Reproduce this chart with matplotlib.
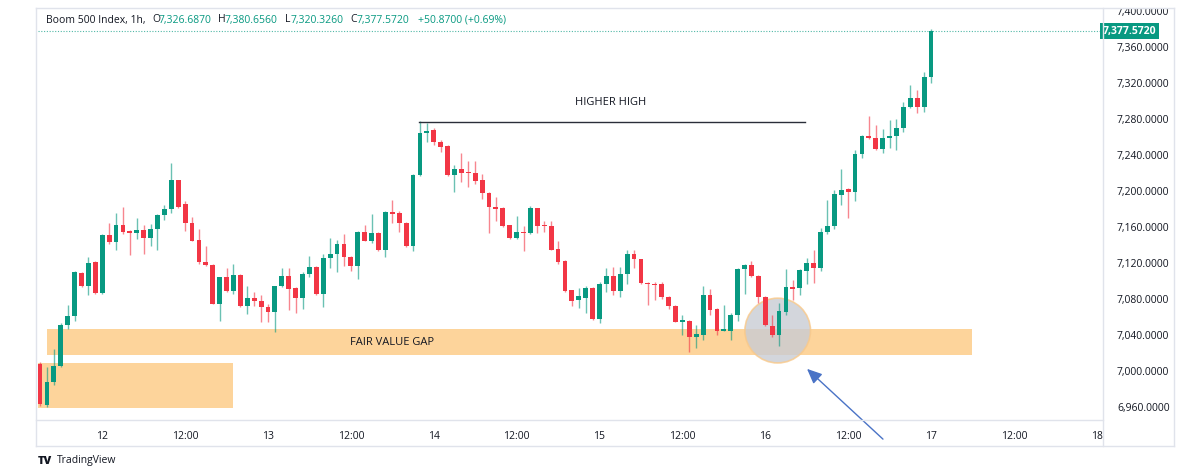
import numpy as np
import matplotlib
matplotlib.use("Agg")
import matplotlib.pyplot as plt
from matplotlib.patches import Rectangle, Ellipse
from matplotlib.lines import Line2D
from matplotlib.transforms import Bbox, TransformedBbox

plt.rcParams["font.family"] = ["Open Sans", "DejaVu Sans"]

# hourly candles, first one is day 11 15:00, last one day 17 00:00
opens = [7008, 6962, 6988, 7006, 7051, 7061, 7109, 7095, 7121, 7087,
         7151, 7143, 7162, 7156, 7153, 7157, 7148, 7158, 7173, 7180,
         7212, 7186, 7165, 7146, 7121, 7118, 7075, 7104, 7089, 7107,
         7072, 7081, 7078, 7071, 7066, 7094, 7106, 7092, 7081, 7108,
         7116, 7086, 7126, 7130, 7141, 7127, 7117, 7155, 7145, 7153,
         7134, 7177, 7176, 7165, 7139, 7218, 7265, 7268, 7255, 7250,
         7218, 7225, 7221, 7220, 7212, 7198, 7182, 7181, 7162, 7148,
         7155, 7153, 7181, 7162, 7161, 7136, 7122, 7090, 7079, 7081,
         7092, 7058, 7097, 7106, 7089, 7108, 7130, 7124, 7098, 7097,
         7097, 7082, 7072, 7054, 7056, 7038, 7040, 7084, 7069, 7045,
         7045, 7062, 7113, 7118, 7106, 7082, 7050, 7040, 7066, 7093,
         7092, 7111, 7120, 7114, 7154, 7161, 7196, 7202, 7199, 7241,
         7261, 7259, 7247, 7259, 7261, 7270, 7294, 7304, 7294, 7326.687]
highs = [7010, 7005, 7024, 7053, 7073, 7111, 7110, 7127, 7122, 7152,
         7165, 7176, 7182, 7157, 7170, 7162, 7163, 7175, 7184, 7231,
         7212, 7189, 7171, 7158, 7139, 7119, 7105, 7114, 7119, 7108,
         7095, 7088, 7084, 7075, 7095, 7114, 7115, 7093, 7110, 7128,
         7117, 7130, 7148, 7146, 7152, 7128, 7156, 7162, 7174, 7154,
         7178, 7190, 7178, 7166, 7219, 7278, 7276, 7270, 7257, 7251,
         7229, 7242, 7234, 7234, 7219, 7199, 7193, 7182, 7162, 7172,
         7161, 7183, 7181, 7167, 7167, 7145, 7123, 7090, 7092, 7095,
         7093, 7099, 7114, 7116, 7116, 7134, 7135, 7125, 7099, 7099,
         7099, 7083, 7073, 7062, 7057, 7051, 7095, 7091, 7070, 7073,
         7065, 7114, 7119, 7122, 7107, 7083, 7062, 7076, 7113, 7101,
         7113, 7126, 7134, 7159, 7190, 7201, 7225, 7203, 7246, 7262,
         7283, 7274, 7269, 7279, 7280, 7299, 7318, 7312, 7332, 7380.656]
lows = [6961, 6960, 6984, 7005, 7047, 7056, 7093, 7084, 7086, 7086,
        7141, 7134, 7152, 7129, 7147, 7130, 7139, 7134, 7168, 7176,
        7181, 7156, 7144, 7119, 7117, 7074, 7056, 7088, 7086, 7071,
        7063, 7072, 7055, 7055, 7043, 7093, 7068, 7065, 7069, 7104,
        7085, 7071, 7114, 7110, 7117, 7111, 7102, 7144, 7142, 7133,
        7127, 7165, 7154, 7138, 7133, 7217, 7255, 7251, 7244, 7217,
        7199, 7210, 7205, 7208, 7191, 7153, 7167, 7160, 7147, 7147,
        7133, 7152, 7153, 7154, 7134, 7119, 7088, 7072, 7070, 7065,
        7057, 7053, 7088, 7084, 7082, 7097, 7114, 7097, 7073, 7079,
        7080, 7069, 7054, 7040, 7021, 7026, 7034, 7062, 7040, 7044,
        7034, 7056, 7086, 7105, 7076, 7050, 7038, 7028, 7062, 7079,
        7084, 7097, 7098, 7111, 7152, 7158, 7185, 7170, 7189, 7237,
        7258, 7246, 7242, 7248, 7246, 7266, 7292, 7287, 7288, 7320.326]
closes = [6963, 6988, 7006, 7051, 7061, 7110, 7095, 7120, 7087, 7151,
          7143, 7162, 7154, 7153, 7157, 7148, 7158, 7173, 7180, 7212,
          7182, 7165, 7145, 7121, 7118, 7075, 7104, 7089, 7107, 7072,
          7081, 7078, 7071, 7066, 7094, 7106, 7091, 7081, 7108, 7116,
          7086, 7126, 7130, 7141, 7127, 7117, 7155, 7145, 7153, 7134,
          7177, 7174, 7165, 7139, 7218, 7265, 7267, 7255, 7249, 7218,
          7225, 7220, 7220, 7211, 7198, 7182, 7180, 7161, 7148, 7155,
          7153, 7181, 7161, 7161, 7135, 7121, 7089, 7078, 7083, 7092,
          7058, 7097, 7106, 7089, 7108, 7130, 7124, 7098, 7097, 7096,
          7082, 7072, 7055, 7057, 7038, 7041, 7084, 7068, 7045, 7047,
          7062, 7113, 7118, 7106, 7082, 7051, 7040, 7067, 7093, 7091,
          7112, 7120, 7114, 7154, 7161, 7197, 7201, 7199, 7241, 7261,
          7259, 7247, 7259, 7261, 7270, 7294, 7304, 7294, 7326.687, 7377.572]

FIRST_HOUR = 15  # hour of the first candle on day 11
tick_days = [12, 12, 13, 13, 14, 14, 15, 15, 16, 16, 17, 17, 18]
tick_hours = [0, 12, 0, 12, 0, 12, 0, 12, 0, 12, 0, 12, 0]
tick_labels = ["12", "12:00", "13", "12:00", "14", "12:00", "15", "12:00",
               "16", "12:00", "17", "12:00", "18"]
price_ticks = [6960, 7000, 7040, 7080, 7120, 7160, 7200, 7240, 7280, 7320, 7360, 7400]

# annotation levels
higher_high = 7277
fvg_top, fvg_bottom = 7047, 7017.5
zone_top, zone_bottom = 7008.5, 6959

UP = "#089981"
DOWN = "#f23645"
TEXT = "#131722"
FRAME = "#e0e3eb"
ORANGE = "#fdd49b"

W, H = 1200, 476
fig = plt.figure(figsize=(W / 100, H / 100), dpi=100)
fig.patch.set_facecolor("white")

# plot area in pixels: x 38..1103, y 8..420 (from top)
ax = fig.add_axes([38 / W, (H - 420) / H, (1103 - 38) / W, (420 - 8) / H])
ax.set_xlim(-0.3, 153.9)
ax.set_ylim(6945.6, 7403.5)
for s in ax.spines.values():
    s.set_visible(False)

x = np.arange(len(opens))
o = np.array(opens)
c = np.array(closes)
colors = [UP if cc >= oo else DOWN for oo, cc in zip(o, c)]

# --- zones ---
ax.add_patch(Rectangle((1.0, fvg_bottom), 133.9, fvg_top - fvg_bottom,
                       facecolor=ORANGE, edgecolor="none", zorder=1))
ax.add_patch(Rectangle((-0.3, zone_bottom), 28.2, zone_top - zone_bottom,
                       facecolor=ORANGE, edgecolor="none", zorder=1))
ax.text(51, (fvg_top + fvg_bottom) / 2, "FAIR VALUE GAP", fontsize=8,
        color=TEXT, ha="center", va="center", zorder=2)

# gray circle around the retest
ax.add_patch(Ellipse((106.8, 7045), 9.5, 72, facecolor="#c9ccd4", alpha=0.8,
                     edgecolor="#f9c98a", lw=1.2, zorder=2))

# --- candles ---
ax.vlines(x, lows, highs, colors=colors, lw=1.0, alpha=0.6, zorder=3)
body_lo = np.minimum(o, c)
body_h = np.maximum(np.abs(c - o), 1.3)
ax.bar(x, body_h, bottom=body_lo, width=0.7, color=colors, edgecolor="none", zorder=4)

# higher high line
ax.plot([54.8, 110.8], [higher_high, higher_high], color="#2a2e39", lw=1.0, zorder=5)
ax.text(82.6, higher_high + 22, "HIGHER HIGH", fontsize=8, color=TEXT,
        ha="center", va="center", zorder=5)

# last price line + label
last = closes[-1]
ax.axhline(last, color=UP, lw=0.8, ls=(0, (1, 1.5)), alpha=0.7, zorder=2)
ax.text(1.0, last, f"{last:,.4f}", transform=ax.get_yaxis_transform(),
        fontsize=7.5, color="white", fontweight="bold", ha="left", va="center",
        bbox=dict(boxstyle="square,pad=0.25", facecolor=UP, edgecolor="none"),
        clip_on=False, zorder=10)

# --- axes ---
tick_pos = [(d - 11) * 24 + h - FIRST_HOUR for d, h in zip(tick_days, tick_hours)]
ax.set_xticks(tick_pos)
ax.set_xticklabels(tick_labels)
ax.set_yticks(price_ticks)
ax.set_yticklabels([f"{p:,.4f}" for p in price_ticks])
ax.yaxis.tick_right()
ax.tick_params(axis="both", length=0, labelsize=7.5, labelcolor=TEXT)
ax.tick_params(axis="y", pad=10)
ax.tick_params(axis="x", pad=8)

# top price label is cut by the frame, as in the screenshot
clip = TransformedBbox(Bbox([[1103 / W, 0], [1174 / W, 1 - 8 / H]]), fig.transFigure)
top_tick = ax.yaxis.get_major_ticks()[-1]
top_tick.label2.set_clip_on(True)
top_tick.label2.set_clip_box(clip)

# frame lines (figure pixels, y from top)
def fline(x0, y0, x1, y1):
    fig.add_artist(Line2D([x0 / W, x1 / W], [1 - y0 / H, 1 - y1 / H],
                          color=FRAME, lw=1.0, transform=fig.transFigure))

fline(36, 8, 1174, 8)
fline(36, 446, 1174, 446)
fline(36, 8, 36, 446)
fline(1174, 8, 1174, 446)
fline(1103, 8, 1103, 446)
fline(36, 420, 1103, 420)

# header
hy = 1 - 20 / H
fig.text(46 / W, hy, "Boom 500 Index, 1h,", fontsize=7.5, color=TEXT, va="center")
pieces = [("O", 152, "7,326.6870", 159), ("H", 218, "7,380.6560", 225),
          ("L", 285, "7,320.3260", 291), ("C", 350, "7,377.5720", 357)]
for lab, lx, val, vx in pieces:
    fig.text(lx / W, hy, lab, fontsize=7.5, color=TEXT, va="center")
    fig.text(vx / W, hy, val, fontsize=7.5, color=UP, va="center")
fig.text(418 / W, hy, "+50.8700 (+0.69%)", fontsize=7.5, color=UP, va="center")

# arrow pointing at the circle
ax.annotate("", xy=(805, H - 367), xycoords="figure pixels",
            xytext=(885, H - 441), textcoords="figure pixels",
            arrowprops=dict(arrowstyle="-|>,head_length=0.9,head_width=0.4",
                            color="#4a73c6", lw=1.0), annotation_clip=False)

# watermark
fig.text(38 / W, 1 - 461 / H, "TV", fontsize=8, fontweight="heavy", color=TEXT, va="center")
fig.text(57 / W, 1 - 461 / H, "TradingView", fontsize=7.5, color=TEXT, va="center")

fig.savefig("out.png", dpi=100)
